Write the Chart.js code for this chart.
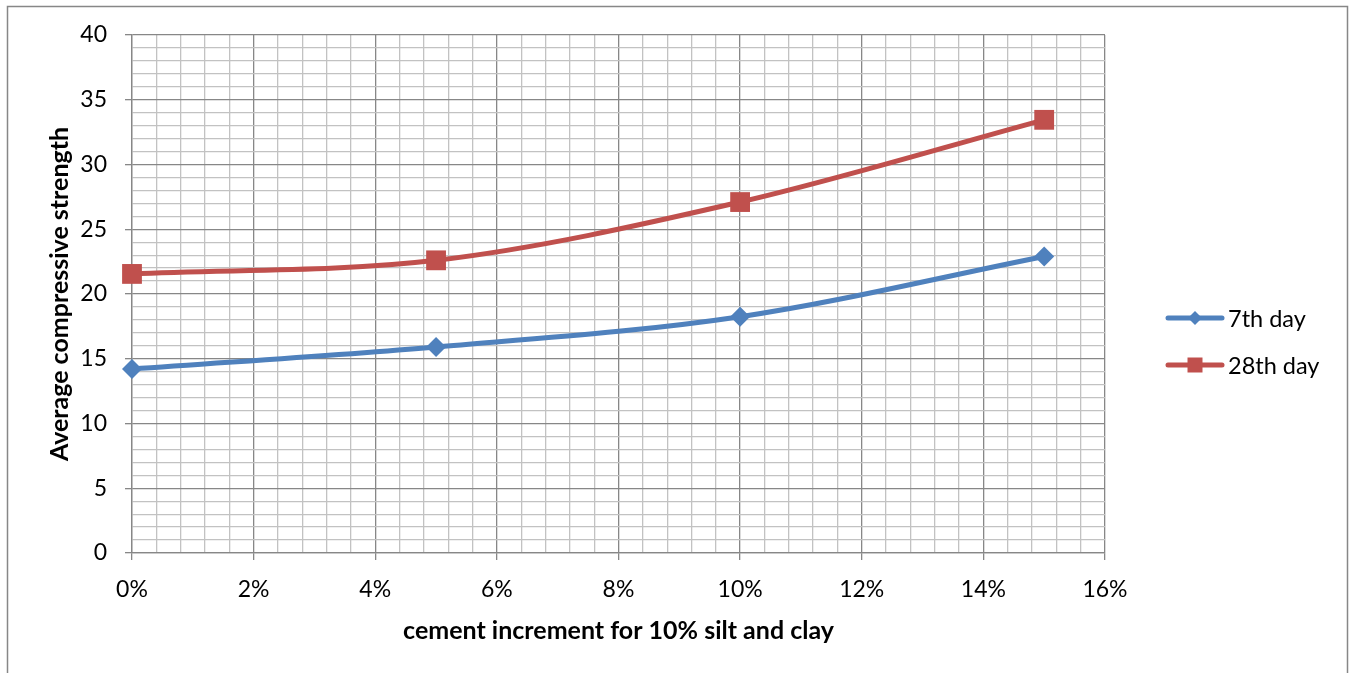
<!DOCTYPE html>
<html>
<head>
<meta charset="utf-8">
<script src="https://cdn.jsdelivr.net/npm/chart.js@4/dist/chart.umd.min.js"></script>
<style>
  html, body { margin: 0; padding: 0; background: #ffffff; }
  #wrap { width: 1352px; height: 673px; position: relative; }
</style>
</head>
<body>
<div id="wrap"><canvas id="c" width="1352" height="673"></canvas></div>
<script>
// Cement content (fraction) and average compressive strength per curing age
const cementShare = [0, 0.05, 0.10, 0.15];
const strength7th = [14.2, 15.9, 18.25, 22.9];
const strength28th = [21.55, 22.6, 27.1, 33.45];
const seriesNames = ['7th day', '28th day'];
const xAxisTitle = 'cement increment for 10% silt and clay';
const yAxisTitle = 'Average compressive strength';

const BLUE = '#4F81BD';
const RED = '#C0504D';
const MAJOR = '#878787';
const MINOR = '#c2c2c2';
const FONT = 'Lato, "Open Sans", sans-serif';

const toPoints = (vals) => vals.map((v, i) => ({ x: cementShare[i], y: v }));

const isMajorX = (v) => Math.round(v * 1000) % 20 === 0;
const isMajorY = (v) => Math.round(v) % 5 === 0;

// Chart frame around the whole figure
const framePlugin = {
  id: 'frame',
  beforeDraw(chart) {
    const ctx = chart.ctx;
    ctx.save();
    ctx.fillStyle = '#ffffff';
    ctx.fillRect(0, 0, chart.width, chart.height);
    ctx.strokeStyle = '#878787';
    ctx.lineWidth = 1.5;
    ctx.strokeRect(7.5, 6.5, 1340, 700);
    ctx.restore();
  }
};

// Legend with a line segment and marker per series
const lineLegendPlugin = {
  id: 'lineLegend',
  afterDraw(chart) {
    const ctx = chart.ctx;
    const x0 = 1168, x1 = 1222, tx = 1228;
    const rows = [318, 365];
    ctx.save();
    chart.data.datasets.forEach((ds, i) => {
      const y = rows[i];
      const cx = (x0 + x1) / 2;
      ctx.strokeStyle = ds.borderColor;
      ctx.lineWidth = 5;
      ctx.lineCap = 'round';
      ctx.beginPath();
      ctx.moveTo(x0, y);
      ctx.lineTo(x1, y);
      ctx.stroke();
      ctx.fillStyle = ds.backgroundColor;
      ctx.beginPath();
      if (ds.pointStyle === 'rectRot') {
        const r = 7;
        ctx.moveTo(cx, y - r);
        ctx.lineTo(cx + r, y);
        ctx.lineTo(cx, y + r);
        ctx.lineTo(cx - r, y);
        ctx.closePath();
      } else {
        ctx.rect(cx - 7.5, y - 7.5, 15, 15);
      }
      ctx.fill();
      ctx.fillStyle = '#000000';
      ctx.font = '23.5px ' + FONT;
      ctx.textBaseline = 'middle';
      ctx.textAlign = 'left';
      ctx.fillText(ds.label, tx, y + 1);
    });
    ctx.restore();
  }
};

new Chart(document.getElementById('c'), {
  type: 'line',
  data: {
    datasets: [
      {
        label: seriesNames[0],
        data: toPoints(strength7th),
        borderColor: BLUE,
        backgroundColor: BLUE,
        borderWidth: 5,
        pointStyle: 'rectRot',
        pointRadius: 10,
        pointHoverRadius: 10,
        pointBorderWidth: 0,
        tension: 0.33,
        clip: false
      },
      {
        label: seriesNames[1],
        data: toPoints(strength28th),
        borderColor: RED,
        backgroundColor: RED,
        borderWidth: 5,
        pointStyle: 'rect',
        pointRadius: 14,
        pointHoverRadius: 14,
        pointBorderWidth: 0,
        tension: 0.33,
        clip: false
      }
    ]
  },
  options: {
    responsive: false,
    animation: false,
    devicePixelRatio: 1,
    layout: { padding: { left: 0, top: 35, right: 247, bottom: 0 } },
    plugins: {
      legend: { display: false },
      tooltip: { enabled: false }
    },
    scales: {
      x: {
        type: 'linear',
        min: 0,
        max: 0.16,
        afterFit(scale) { scale.height = 120; },
        afterBuildTicks(scale) {
          const t = [];
          for (let i = 0; i <= 40; i++) t.push({ value: i * 0.004 });
          scale.ticks = t;
        },
        ticks: {
          autoSkip: false,
          maxRotation: 0,
          padding: 16,
          color: '#000000',
          font: { family: FONT, size: 23 },
          callback: (v) => isMajorX(v) ? Math.round(v * 100) + '%' : ''
        },
        grid: {
          color: (c) => isMajorX(c.tick.value) ? MAJOR : MINOR,
          lineWidth: 1.3,
          tickLength: 7,
          tickColor: (c) => isMajorX(c.tick.value) ? MAJOR : 'rgba(0,0,0,0)'
        },
        border: { color: MAJOR, width: 1.3 },
        title: {
          display: true,
          text: xAxisTitle,
          color: '#000000',
          font: { family: FONT, size: 25, weight: 'bold' },
          padding: { top: 27, bottom: 27 }
        }
      },
      y: {
        type: 'linear',
        min: 0,
        max: 40,
        afterFit(scale) { scale.width = 132; },
        afterBuildTicks(scale) {
          const t = [];
          for (let i = 0; i <= 40; i++) t.push({ value: i });
          scale.ticks = t;
        },
        ticks: {
          autoSkip: false,
          padding: 18,
          color: '#000000',
          font: { family: FONT, size: 23 },
          callback: (v) => isMajorY(v) ? String(Math.round(v)) : ''
        },
        grid: {
          color: (c) => isMajorY(c.tick.value) ? MAJOR : MINOR,
          lineWidth: 1.3,
          tickLength: 7,
          tickColor: (c) => isMajorY(c.tick.value) ? MAJOR : 'rgba(0,0,0,0)'
        },
        border: { color: MAJOR, width: 1.3 },
        title: {
          display: true,
          text: yAxisTitle,
          color: '#000000',
          font: { family: FONT, size: 25, weight: 'bold' },
          padding: { top: 45, bottom: 45 }
        }
      }
    }
  },
  plugins: [framePlugin, lineLegendPlugin]
});
</script>
</body>
</html>
